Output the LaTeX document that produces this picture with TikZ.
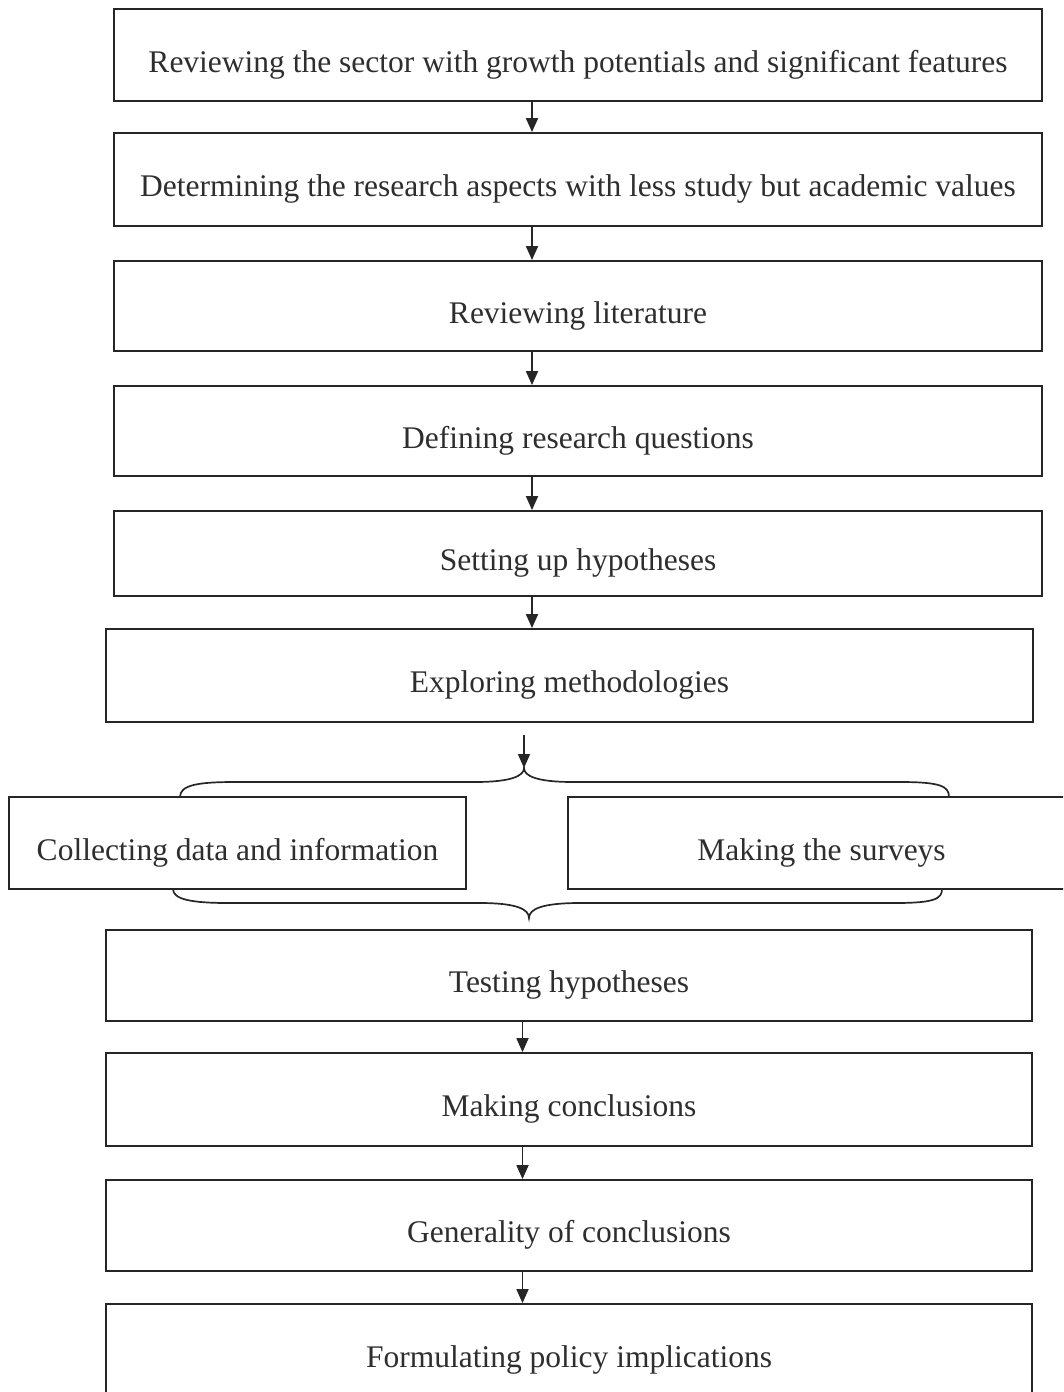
\documentclass[tikz,border=0pt]{standalone}
\usepackage{fontspec}
\setmainfont{Liberation Serif}
\usetikzlibrary{arrows.meta}
\begin{document}
\begin{tikzpicture}[x=1pt,y=-1pt,
  box/.style={draw=black!85,line width=1.8pt,inner sep=0pt,
    text height=40pt,text depth=6pt,
    font=\fontsize{31.5}{36}\selectfont,text=black!82},
  arr/.style={draw=black!85,line width=1.8pt,-{Triangle[width=12pt,length=14pt]}},
  brc/.style={draw=black!85,line width=1.7pt}]
\useasboundingbox (0,0) rectangle (1063,1392);
\clip (0,0) rectangle (1063,1392);
\node[box,minimum width=928pt,minimum height=92pt] (b1) at (578,55) {Reviewing the sector with growth potentials and significant features};
\node[box,minimum width=928pt,minimum height=93pt] (b2) at (578,179.5) {Determining the research aspects with less study but academic values};
\node[box,minimum width=928pt,minimum height=90pt] (b3) at (578,306) {Reviewing literature};
\node[box,minimum width=928pt,minimum height=90pt] (b4) at (578,431) {Defining research questions};
\node[box,minimum width=928pt,minimum height=85pt] (b5) at (578,553.5) {Setting up hypotheses};
\node[box,minimum width=927pt,minimum height=93pt] (b6) at (569.5,675.5) {Exploring methodologies};
\node[box,minimum width=457pt,minimum height=92pt] (bl) at (237.5,843) {Collecting data and information};
\node[box,minimum width=507pt,minimum height=92pt] (br) at (821.5,843) {Making the surveys};
\node[box,minimum width=926pt,minimum height=91pt] (b7) at (569,975.5) {Testing hypotheses};
\node[box,minimum width=926pt,minimum height=93pt] (b8) at (569,1099.5) {Making conclusions};
\node[box,minimum width=926pt,minimum height=91pt] (b9) at (569,1225.5) {Generality of conclusions};
\node[box,minimum width=926pt,minimum height=92pt] (b10) at (569,1350) {Formulating policy implications};
% arrows
\draw[arr] ([xshift=-46pt]b1.south) -- ([xshift=-46pt]b2.north);
\draw[arr] ([xshift=-46pt]b2.south) -- ([xshift=-46pt]b3.north);
\draw[arr] ([xshift=-46pt]b3.south) -- ([xshift=-46pt]b4.north);
\draw[arr] ([xshift=-46pt]b4.south) -- ([xshift=-46pt]b5.north);
\draw[arr] ([xshift=-46pt]b5.south) -- ([xshift=-37.5pt]b6.north);
\draw[arr] ([xshift=-46.5pt]b7.south) -- ([xshift=-46.5pt]b8.north);
\draw[arr] ([xshift=-46.5pt]b8.south) -- ([xshift=-46.5pt]b9.north);
\draw[arr] ([xshift=-46.5pt]b9.south) -- ([xshift=-46.5pt]b10.north);
% braces
\coordinate (tip1) at (524,768);
\coordinate (tip2) at (529,918);
\draw[arr] ([yshift=-12pt]b6.south -| tip1) -- (tip1);
\draw[brc] (180,797) .. controls (180,785) and (198,782) .. (235,782) -- (475,782)
  .. controls (511,782) and (524,776) .. (tip1)
  .. controls (524,776) and (537,782) .. (573,782) -- (900,782)
  .. controls (940,782) and (949,786) .. (949,797);
\draw[brc] (173,889) .. controls (173,899) and (190,903) .. (228,903) -- (480,903)
  .. controls (516,903) and (529,909) .. (tip2)
  .. controls (529,909) and (542,903) .. (580,903) -- (895,903)
  .. controls (934,903) and (942,899) .. (942,889);
\end{tikzpicture}
\end{document}
